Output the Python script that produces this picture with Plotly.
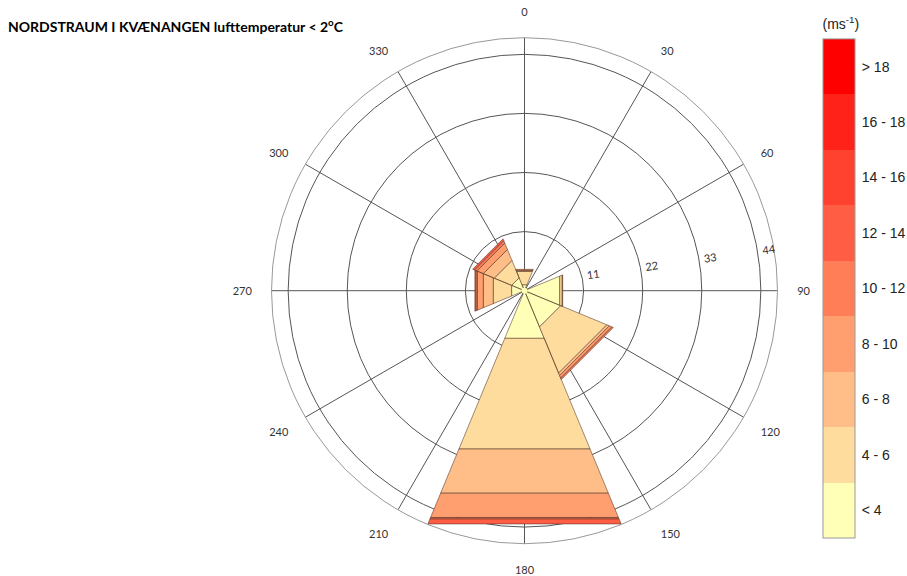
import plotly.graph_objects as go

# Wind direction sectors (degrees, 45-degree bins)
directions = [0, 45, 90, 135, 180, 225, 270, 315]

# Frequency (%) per wind-speed class in each direction sector
speed_labels = ["< 4", "4 - 6", "6 - 8", "8 - 10", "10 - 12",
                "12 - 14", "14 - 16", "16 - 18", "> 18"]
freq_lt4 = [1.2, 0.5, 7.1, 7.3, 9.6, 0.6, 2.6, 2.6]
freq_4_6 = [2.7, 0.1, 0.5, 9.3, 22.3, 0.1, 3.7, 3.5]
freq_6_8 = [0.2, 0.0, 0.1, 0.5, 8.9, 0.0, 2.0, 2.2]
freq_8_10 = [0.2, 0.0, 0.0, 0.5, 4.9, 0.0, 1.2, 1.3]
freq_10_12 = [0.0, 0.0, 0.0, 0.3, 0.3, 0.0, 0.3, 0.5]
freq_12_14 = [0.0, 0.0, 0.0, 0.0, 1.0, 0.0, 0.2, 0.35]
freq_14_16 = [0.0] * 8
freq_16_18 = [0.0] * 8
freq_gt18 = [0.0] * 8
speed_classes = [freq_lt4, freq_4_6, freq_6_8, freq_8_10, freq_10_12,
                 freq_12_14, freq_14_16, freq_16_18, freq_gt18]

class_colors = ["#FFFFB8", "#FDDC9E", "#FFBE88", "#FF9E6E", "#FF7E58",
                "#FF5E44", "#FF4130", "#FF2218", "#FF0000"]

radial_ticks = [11, 22, 33, 44]
angle_ticks = list(range(0, 360, 30))

half_width = 22.5
fig = go.Figure()

# Stacked sectors: each class is a ring segment with straight outer edges
cumulative = [0.0] * len(directions)
for freqs, color, label in zip(speed_classes, class_colors, speed_labels):
    rs, ts = [], []
    for i, d in enumerate(directions):
        r0 = cumulative[i]
        r1 = r0 + freqs[i]
        cumulative[i] = r1
        if freqs[i] <= 0:
            continue
        rs += [r0, r0, r1, r1, r0, None]
        ts += [d - half_width, d + half_width, d + half_width,
               d - half_width, d - half_width, None]
    if not rs:
        continue
    fig.add_trace(go.Scatterpolar(
        r=rs, theta=ts, mode="lines", fill="toself", fillcolor=color,
        line=dict(color="rgba(70,45,30,0.75)", width=0.7),
        connectgaps=False, name=label, showlegend=False, hoverinfo="skip",
    ))

# Colour key for the wind-speed classes
n = len(class_colors)
scale = []
for i, c in enumerate(class_colors):
    scale += [[i / n, c], [(i + 1) / n, c]]
fig.add_trace(go.Scatterpolar(
    r=[0], theta=[0], mode="markers", showlegend=False, hoverinfo="skip",
    marker=dict(size=0, color=[0], cmin=0, cmax=n, colorscale=scale,
                showscale=True,
                colorbar=dict(
                    tickvals=[i + 0.5 for i in range(n)], ticktext=speed_labels,
                    ticks="outside", ticklen=4, tickcolor="rgba(0,0,0,0)",
                    tickfont=dict(family="Liberation Sans", size=14, color="#222"),
                    x=823 / 907, xanchor="left", xpad=0,
                    y=1 - 277 / 576, yanchor="middle", ypad=0,
                    thickness=32, lenmode="pixels", len=522,
                    outlinecolor="#999", outlinewidth=1,
                    title=dict(text="(ms<sup>-1</sup>)", side="top",
                               font=dict(family="Liberation Sans", size=14, color="#222")),
                )),
))

pad = "\u00a0" * 8
fig.update_layout(
    width=907, height=576,
    margin=dict(l=0, r=0, t=0, b=0, autoexpand=False),
    paper_bgcolor="white",
    title=dict(text="<b>NORDSTRAUM I KVÆNANGEN lufttemperatur &lt; 2<sup>o</sup>C</b>",
               x=8 / 907, xanchor="left", y=1 - 27 / 576, yanchor="middle",
               font=dict(family="Lato", size=14, color="black")),
    polar=dict(
        domain=dict(x=[271.5 / 907, 777.5 / 907], y=[1 - 543.7 / 576, 1 - 37.7 / 576]),
        bgcolor="white",
        angularaxis=dict(
            rotation=90, direction="clockwise",
            tickvals=angle_ticks, ticktext=[str(a) for a in angle_ticks],
            ticks="outside", ticklen=17, tickcolor="rgba(0,0,0,0)",
            tickfont=dict(family="Lato", size=11, color="#333"),
            showline=True, linecolor="#999", linewidth=1,
            gridcolor="#555", gridwidth=0.7, layer="below traces",
        ),
        radialaxis=dict(
            range=[0, 47.1], tickvals=radial_ticks,
            ticktext=[pad + str(v) for v in radial_ticks],
            angle=8, side="counterclockwise",
            showline=False, ticks="",
            tickfont=dict(family="Lato", size=11, color="#333"),
            gridcolor="#555", gridwidth=0.7, layer="below traces",
        ),
    ),
)

fig.write_html("out.html")
